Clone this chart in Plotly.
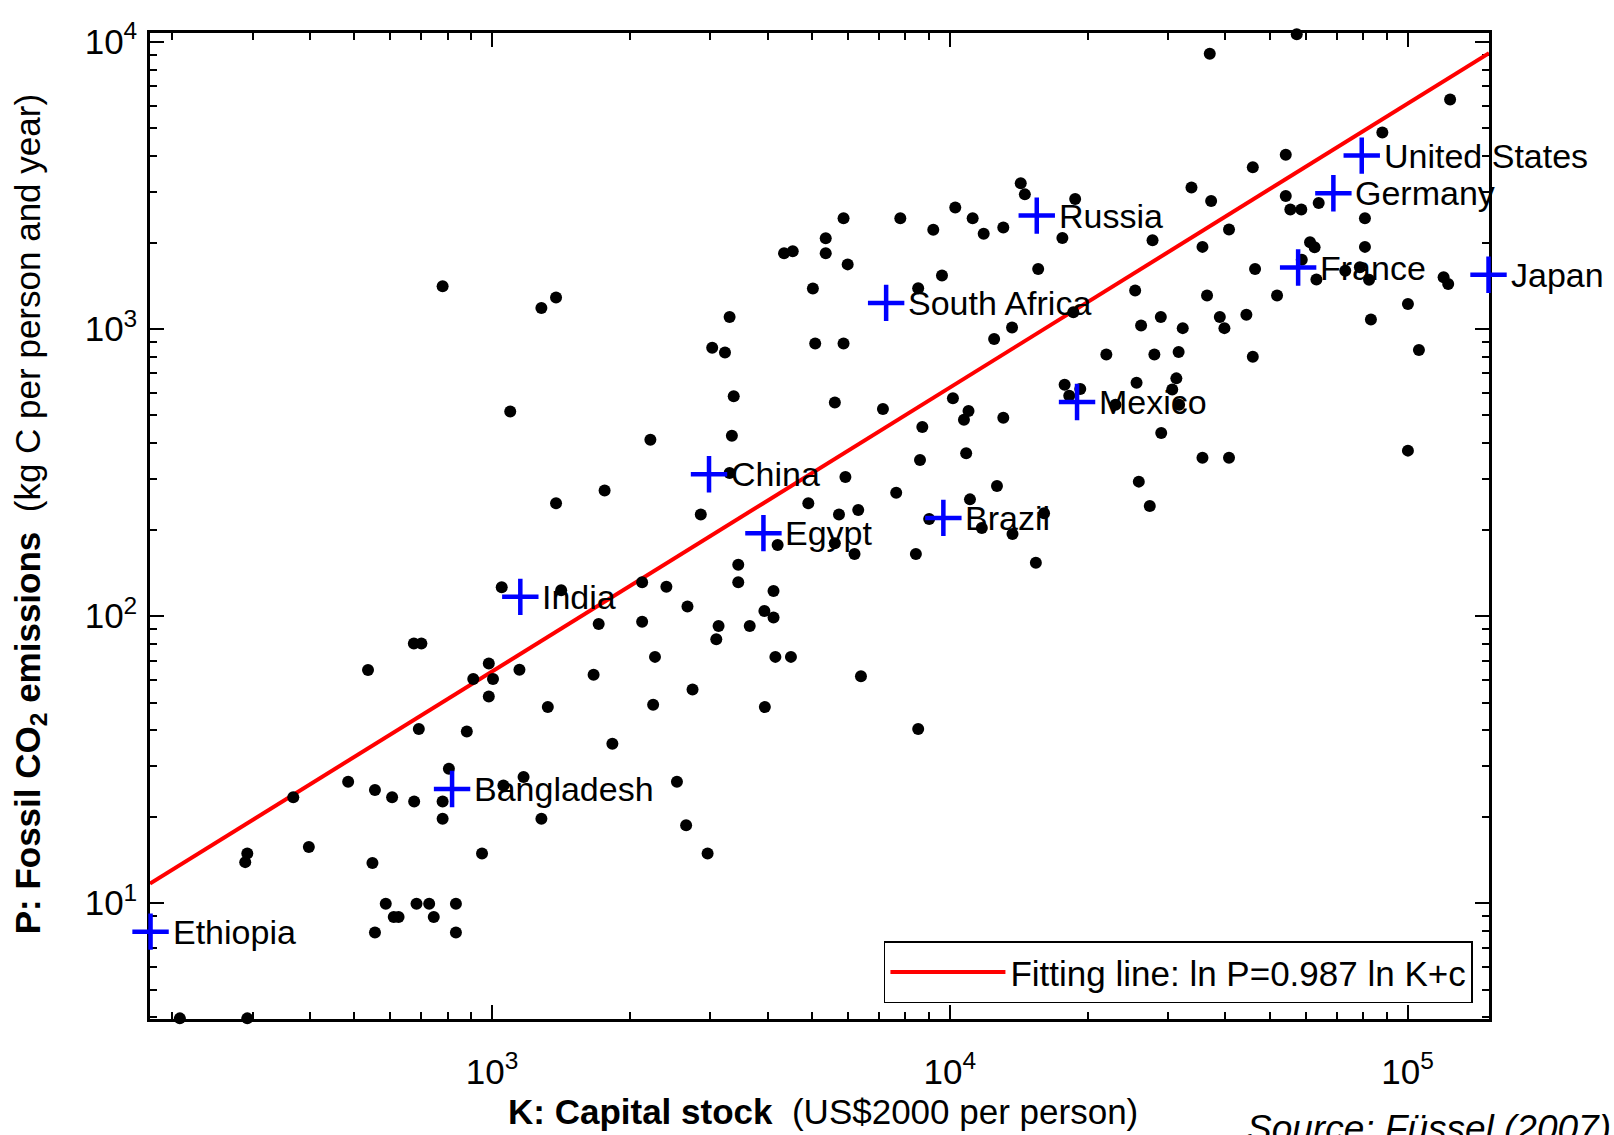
import math
import plotly.graph_objects as go

FONT = "Liberation Sans, Arial, Helvetica, sans-serif"

# ---- All countries (black dots): K = capital stock (US$2000/person), P = fossil CO2 (kg C/person/yr)
K_ALL = [
    780, 1282, 1380, 1096, 1380,
    14290, 14590, 10280, 11220, 11860, 13090, 9204, 7798, 5861, 5358, 5358, 5984, 4345, 4539,
    5023, 15600, 8531, 9616, 3304, 3027, 3228, 5082, 5861, 12500, 13680, 3373, 5610, 7145,
    10160, 10990, 10740, 13090, 8710, 2218, 3342, 10860, 8610, 3304, 5916, 1762, 7638, 12680,
    4909, 2858, 5728, 6310, 11070,
    57280, 36980, 123900, 88100, 54200, 45920, 33730, 37240, 18790, 54200, 55460, 58610, 63970,
    80720, 40740, 17620, 27730, 35650, 61240, 62660, 80720, 46450, 58750, 63240, 73110, 78700,
    82410, 119900, 122700, 25410, 36480, 51880, 18620, 100200, 28910, 26180, 32280, 38900, 39810,
    44460, 83180, 21980, 27990, 31620, 45920, 105900, 17820, 18240, 19280, 23010, 25590, 31260,
    30620, 31700, 28970, 35650, 40740, 100200, 25880, 27350,
    1050, 1416, 1710, 675, 701, 536, 984, 910, 1005, 1148, 984, 1667, 1324, 692, 881, 805, 1172,
    1059, 485, 555, 605, 676, 780, 368, 780, 1282, 398, 292, 289, 548, 951, 586, 684, 729, 834,
    610, 625, 746, 555, 834, 208, 292,
    4207, 5610, 6194, 8433, 9016, 11750, 13710, 15420, 16070, 3451, 3451, 2128, 2404, 4121, 2673,
    3936, 4121, 2128, 3126, 3090, 3656, 2270, 4159, 4498, 6397, 2742, 2249, 3945, 1832, 8531,
    2535, 2655, 2958,
]
P_ALL = [
    1409, 1183, 1288, 516, 247,
    3221, 2944, 2649, 2432, 2148, 2259, 2218, 2432, 2432, 2070, 1837, 1679, 1837, 1866,
    1384, 1618, 1387, 1535, 1102, 861, 828, 891, 891, 923, 1012, 583, 555, 526,
    574, 518, 483, 491, 456, 411, 425, 369, 350, 315, 305, 274, 269, 284,
    247, 226, 226, 234, 255,
    10640, 9099, 6295, 4831, 4046, 3656, 3112, 2793, 2838, 2904, 2606, 2606, 2748,
    2432, 2223, 2075, 2037, 1932, 2004, 1928, 1932, 1618, 1742, 1486, 1596, 1641,
    1483, 1514, 1435, 1361, 1309, 1309, 1143, 1222, 1102, 1028, 1007, 1102, 1007,
    1122, 1079, 815, 815, 832, 800, 845, 640, 585, 618, 545, 650, 673,
    615, 545, 434, 356, 356, 377, 294, 242,
    126, 123, 93.8, 80.2, 80.2, 64.9, 68.4, 60.4, 60.4, 65.0, 52.5, 62.5, 48.2, 40.4, 39.6, 29.4, 27.5,
    25.7, 26.5, 24.8, 23.4, 22.6, 22.6, 23.4, 19.7, 19.7, 15.7, 14.9, 13.9, 13.8, 14.9, 9.95, 9.95, 9.95, 9.95,
    8.95, 8.95, 8.95, 7.91, 7.91, 3.97, 3.97,
    177, 179.5, 164.4, 164.4, 217.8, 202.8, 193.2, 153.5, 228.0, 151.0, 131.2, 131.2, 126.5, 122.2, 107.9,
    104.2, 98.9, 95.5, 92.3, 83.0, 92.3, 72.1, 72.1, 72.1, 61.7, 55.5, 49.1, 48.2, 35.9, 40.4,
    26.5, 18.7, 14.9,
]

# ---- Highlighted countries (blue crosses)
COUNTRIES = ["Ethiopia", "Bangladesh", "India", "China", "Egypt", "Brazil", "South Africa",
             "Mexico", "Russia", "France", "Germany", "United States", "Japan"]
K_C = [179.5, 818, 1153, 2979, 3917, 9683, 7261, 18970, 15490, 57680, 68870, 79430, 150300]
P_C = [7.96, 25.0, 116.7, 312, 194.5, 219.8, 1233, 557, 2483, 1637, 2972, 4018, 1545]

# ---- Fitting line (end points)
FIT_K = [179, 150660]
FIT_P = [11.7, 9140]
FIT_LABEL = "Fitting line: ln P=0.987 ln K+c"

# ---- Axes
X_RANGE_VALS = [179, 150660]
Y_RANGE_VALS = [3.95, 10740]
X_TICKS = [1e3, 1e4, 1e5]
X_TICKTEXT = ["10<sup>3</sup>", "10<sup>4</sup>", "10<sup>5</sup>"]
X_MINOR = [200, 300, 400, 500, 600, 700, 800, 900,
           2000, 3000, 4000, 5000, 6000, 7000, 8000, 9000,
           20000, 30000, 40000, 50000, 60000, 70000, 80000, 90000]
Y_TICKS = [10, 100, 1000, 10000]
Y_TICKTEXT = ["10<sup>1</sup>", "10<sup>2</sup>", "10<sup>3</sup>", "10<sup>4</sup>"]
Y_MINOR = [4, 5, 6, 7, 8, 9, 20, 30, 40, 50, 60, 70, 80, 90,
           200, 300, 400, 500, 600, 700, 800, 900,
           2000, 3000, 4000, 5000, 6000, 7000, 8000, 9000]

X_TITLE = "<b>K: Capital stock</b>\u00a0\u00a0(US$2000 per person)"
Y_TITLE = "<b>P: Fossil CO<sub>2</sub> emissions</b>\u00a0\u00a0(kg C per person and year)"
SOURCE = "<i>Source: Füssel (2007)</i>"

fig = go.Figure()

fig.add_trace(go.Scatter(
    x=FIT_K, y=FIT_P, mode="lines", name=FIT_LABEL,
    line=dict(color="#ff0000", width=4), showlegend=True, cliponaxis=True,
))
fig.add_trace(go.Scatter(
    x=K_ALL, y=P_ALL, mode="markers", showlegend=False, cliponaxis=False,
    marker=dict(color="black", size=12, line=dict(width=0)),
))
fig.add_trace(go.Scatter(
    x=K_C, y=P_C, mode="markers", showlegend=False, cliponaxis=False,
    marker=dict(symbol="cross-thin", size=26, color="#0000ff",
                line=dict(color="#0000ff", width=4.5)),
))

for name, k, p in zip(COUNTRIES, K_C, P_C):
    fig.add_annotation(
        x=math.log10(k), y=math.log10(p), xref="x", yref="y",
        text=name, showarrow=False, xanchor="left", yanchor="middle",
        xshift=20, font=dict(family=FONT, size=34, color="black"),
    )

axis_common = dict(
    type="log", showline=True, linecolor="black", linewidth=2.5, mirror="ticks",
    ticks="inside", ticklen=14, tickwidth=1.5, tickcolor="black",
    showgrid=False, zeroline=False, layer="below traces",
    tickfont=dict(family=FONT, size=35, color="black"),
)

fig.update_xaxes(
    **axis_common,
    range=[math.log10(v) for v in X_RANGE_VALS],
    tickmode="array", tickvals=X_TICKS, ticktext=X_TICKTEXT,
    ticklabelstandoff=20,
    minor=dict(ticks="inside", ticklen=7, tickwidth=1.5, tickcolor="black",
               tickvals=X_MINOR, showgrid=False),
)
fig.update_yaxes(
    **axis_common,
    range=[math.log10(v) for v in Y_RANGE_VALS],
    tickmode="array", tickvals=Y_TICKS, ticktext=Y_TICKTEXT,
    ticklabelstandoff=3,
    minor=dict(ticks="inside", ticklen=7, tickwidth=1.5, tickcolor="black",
               tickvals=Y_MINOR, showgrid=False),
)

fig.add_annotation(
    text=X_TITLE, xref="paper", yref="paper", x=0.5026, y=-0.0943,
    xanchor="center", yanchor="middle", showarrow=False,
    font=dict(family=FONT, size=35, color="black"),
)
fig.add_annotation(
    text=Y_TITLE, xref="paper", yref="paper", x=-0.0895, y=0.512,
    xanchor="center", yanchor="middle", showarrow=False, textangle=-90,
    font=dict(family=FONT, size=35, color="black"),
)
fig.add_annotation(
    text=SOURCE, xref="paper", yref="paper", x=0.818, y=-0.111,
    xanchor="left", yanchor="middle", showarrow=False,
    font=dict(family=FONT, size=37, color="black"),
)

fig.update_layout(
    width=1614, height=1135,
    margin=dict(l=150, r=125, t=33, b=116, pad=0),
    plot_bgcolor="white", paper_bgcolor="white",
    font=dict(family=FONT, size=33, color="black"),
    showlegend=True,
    legend=dict(
        x=0.988, xanchor="right", y=0.016, yanchor="bottom",
        bgcolor="white", bordercolor="black", borderwidth=1.5,
        font=dict(family=FONT, size=35, color="black"),
        itemwidth=115,
    ),
)

fig.write_html("out.html")
